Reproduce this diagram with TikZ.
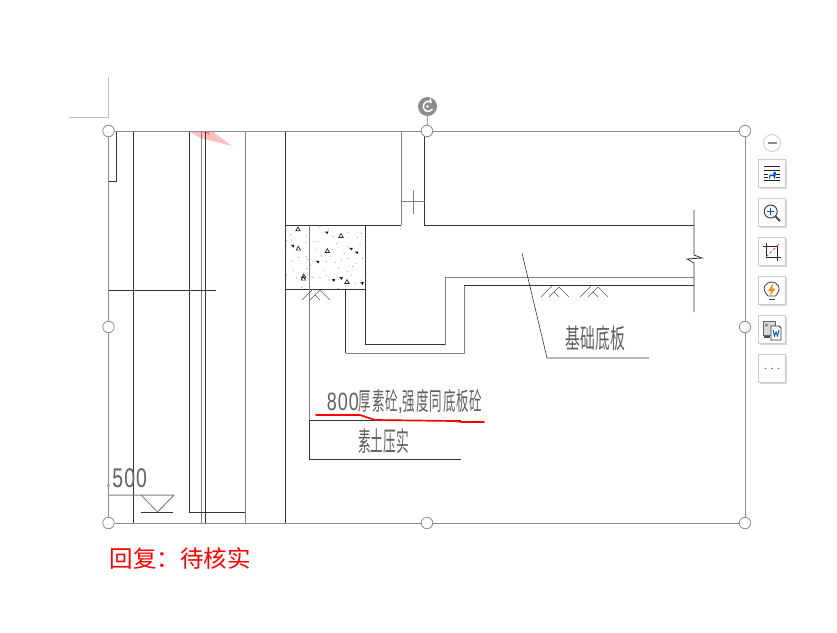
\documentclass[tikz,border=0pt]{standalone}
\usepackage{fontspec}
\usetikzlibrary{shadows}
\newfontfamily\uifont{Noto Sans CJK SC}
\newfontfamily\cadwide[FakeStretch=.55]{Noto Sans CJK SC}
\newfontfamily\cadslim[FakeStretch=.47]{Noto Sans CJK SC}
\newfontfamily\cadline[FakeStretch=.5,LetterSpace=3.4]{Noto Sans CJK SC}
\newfontfamily\cadnum[FakeStretch=.72,LetterSpace=4]{Liberation Sans}
\newcommand{\soilmark}[2]{%
	\draw[thinline] (#1,#2+11) -- (#1+11,#2);
	\draw[thinline] (#1+8,#2+11) -- (#1+18,#2+1) -- (#1+28,#2+11);
	\draw[thinline] (#1+13,#2+6) -- (#1+18,#2+11);
}
\begin{document}
\begin{tikzpicture}[
	x=1pt, y=-1pt,
	darkline/.style={draw=black!80, line width=.8pt},
	grayline/.style={draw=black!50, line width=1pt},
	thinline/.style={draw=black!65, line width=.6pt},
	hstyle/.style={circle, draw=black!45, fill=white, line width=.8pt, inner sep=0pt, minimum size=11.5pt},
	bstyle/.style={rectangle, draw=black!20, fill=white, line width=.8pt, inner sep=0pt, minimum size=27.5pt,
	drop shadow={shadow xshift=1.5pt, shadow yshift=-1.5pt, fill=black!25, opacity=.6}},
	cadlabel/.style={inner sep=0pt, text=black!62, anchor=center},
	]
	\useasboundingbox (0,0) rectangle (837,632);
	
	% page corner
	\coordinate (c1) at (108,77);
	\coordinate (c2) at (108,117);
	\coordinate (c3) at (69,117);
	\draw[draw=black!25, line width=.8pt] (c1) -- (c2) -- (c3);
	
	% pink smear
	\fill[red!25] (189,131) -- (200,138) -- (232,146) -- (212,131) -- cycle;
	\fill[red!55] (200,131) -- (210,135) -- (208,131) -- cycle;
	
	% left part of the drawing
	\draw[darkline] (108,181) -- (116.5,181) -- (116.5,131);
	\draw[darkline] (133,131) -- (133,523);
	\draw[darkline] (189.5,131) -- (189.5,513);
	\draw[grayline] (201.5,131) -- (201.5,523);
	\draw[darkline] (205,131) -- (205,523);
	\draw[grayline] (245,131) -- (245,523);
	\draw[darkline] (285,131) -- (285,523);
	\draw[darkline] (108,290.5) -- (216,290.5);
	\draw[darkline] (189.5,512.5) -- (245,512.5);
	\draw[grayline] (108,495) -- (174,495) -- (157.5,512);
	\draw[thinline] (141,495) -- (157.5,512);
	\draw[darkline] (141,512) -- (173,512);
	
	% wall and slab
	\draw[darkline] (285,225) -- (401,225);
	\draw[grayline] (401,131) -- (401,225);
	\draw[darkline] (424.5,131) -- (424.5,225) -- (694,225);
	\draw[grayline] (401,201.5) -- (424.5,201.5);
	\draw[grayline] (413,190) -- (413,214);
	\draw[darkline] (285,289) -- (365,289);
	\draw[grayline] (309.5,225) -- (309.5,420);
	\draw[darkline] (309.5,420) -- (309.5,459.5) -- (461,459.5);
	\draw[darkline] (309.5,420) -- (461,420);
	\draw[darkline] (365,225) -- (365,344.5) -- (445,344.5);
	\draw[grayline] (445,344.5) -- (445,277) -- (694,277);
	\draw[darkline] (345.5,289) -- (345.5,353);
	\draw[grayline] (345.5,353) -- (464,353) -- (464,285.5);
	\draw[darkline] (464,285.5) -- (694,285.5);
	\draw[darkline] (694,210) -- (694,255) -- (702,258) -- (687,259) -- (694,263) -- (694,312);
	
	% leader
	\draw[thinline, draw=black!80] (522,253) -- (547,358) -- (649,358);
	
	% soil marks
	\soilmark{302}{289}
	\soilmark{541}{286}
	\soilmark{580}{286}
	
	% concrete fill
	\foreach \a/\b in {84/87,85/145,101/228,213/107,172/152,231/245,100/235}
		\draw[black!85, line width=.7pt] (270+\a/3-2.2,200+\b/3+1.8) -- (270+\a/3,200+\b/3-2) -- (270+\a/3+2.2,200+\b/3+1.8) -- cycle;
	\foreach \a/\b in {68/138,170/98,243/147,260/158,143/186,213/235,190/241,276/250}
		\fill[black!90] (270+\a/3-1.8,200+\b/3-1) -- (270+\a/3+1.8,200+\b/3-1.2) -- (270+\a/3+.8,200+\b/3+1.5) -- cycle;
	\foreach \a/\b in {62/103,50/122,110/110,135/125,145/125,108/170,112/178,65/183,85/172,50/225,80/232,
	147/82,175/88,235/97,275/100,262/112,190/110,232/140,155/168,180/168,168/185,195/187,235/175,
	258/190,205/203,232/215,168/227,150/233,178/240,245/225,275/240,95/262,205/265,228/258,
	108/128,65/120,48/165,112/205,70/210,122/195,200/130,222/160,215/180,270/135,278/175,248/200,
	140/150,160/210,188/148,255/250,128/232}
		\fill[black!50] (270+\a/3,200+\b/3) circle (.5pt);
	
	% drawing labels
	\node[cadlabel] (plate) at (595.5,338.5) {\fontsize{27}{27}\cadwide 基础底板};
	\node[cadlabel] (mix) at (404.5,401.5) {\fontsize{25}{25}\selectfont{\fontsize{25}{25}\cadnum 800}\cadline 厚素砼{\cadnum ,}强度同底板砼};
	\node[cadlabel] (soil) at (383.5,441) {\fontsize{27}{27}\cadslim 素土压实};
	\node[cadlabel] (level) at (126.5,478) {\fontsize{27}{27}\cadnum .500};
	
	% red underline
	\draw[red, line width=1.7pt, line cap=round] (316,415) -- (360,415) -- (375,420) -- (455,421) -- (462,422) -- (484,422);
	
	% selection frame
	\node[hstyle] (tl) at (108.5,131) {};
	\node[hstyle] (tm) at (427,131) {};
	\node[hstyle] (tr) at (745,131) {};
	\node[hstyle] (ml) at (108.5,327) {};
	\node[hstyle] (mr) at (745,327) {};
	\node[hstyle] (bl) at (108.5,523) {};
	\node[hstyle] (bm) at (427,523) {};
	\node[hstyle] (br) at (745,523) {};
	\node[circle, fill=black!45, inner sep=0pt, minimum size=19pt] (rot) at (427.5,106.5) {};
	\draw[black!45, line width=.8pt] (tl) -- (tm);
	\draw[black!45, line width=.8pt] (tm) -- (tr);
	\draw[black!45, line width=.8pt] (tr) -- (mr);
	\draw[black!45, line width=.8pt] (mr) -- (br);
	\draw[black!45, line width=.8pt] (br) -- (bm);
	\draw[black!45, line width=.8pt] (bm) -- (bl);
	\draw[black!45, line width=.8pt] (bl) -- (ml);
	\draw[black!45, line width=.8pt] (ml) -- (tl);
	\draw[black!45, line width=.8pt] (rot) -- (tm);
	\draw[white, line width=1.5pt, -stealth] (432.5,109) arc (30:320:5);
	\fill[white] (427.5,106.5) circle (1.3pt);
	
	% toolbar
	\node[circle, draw=black!20, fill=white, line width=.8pt, inner sep=0pt, minimum size=17pt] (minus) at (772,143) {};
	\draw[black!45, line width=1.6pt] (767.5,143) -- (776.5,143);
	\foreach \n/\yy in {1/173.5,2/212.5,3/251.5,4/290.5,5/329.5,6/368.5}
		\node[bstyle] (btn\n) at (772,\yy) {};
	
	% icon 1
	\foreach \yy in {166.7,170.7,180.7}
		\draw[black!85, line width=.8pt] (764,\yy) -- (780,\yy);
	\foreach \yy in {174,177.3} {
		\draw[black!85, line width=.7pt] (764,\yy) -- (768,\yy);
		\draw[black!85, line width=.7pt] (776,\yy) -- (780,\yy);
	}
	\fill[blue!60!cyan!80!black] (769,178.5) -- (769.5,174.5) -- (773,174.5) -- (774,171.5) -- (776,172.5) -- (775,178.5) -- (774,178.5) -- (773.5,176) -- (770.5,176) -- (770,178.5) -- cycle;
	
	% icon 2
	\draw[black!80, line width=.9pt] (770.7,211.5) circle (6.5pt);
	\draw[black!70, line width=1.8pt] (775.5,216.5) -- (780,221);
	\draw[blue!60!cyan!80!black, line width=.9pt] (767,211.5) -- (774.4,211.5);
	\draw[blue!60!cyan!80!black, line width=.9pt] (770.7,207.8) -- (770.7,215.2);
	
	% icon 3
	\draw[black!85, line width=.9pt] (763,246) -- (777,246) -- (777,261);
	\draw[black!85, line width=.9pt] (766,243) -- (766,257) -- (781,257);
	\draw[red!75, line width=.8pt, densely dashed] (766,257) -- (780,243);
	
	% icon 4
	\draw[black!70, line width=.9pt] (768,296) .. controls (760,288) and (766,282) .. (771.7,282) .. controls (777,282) and (783,288) .. (775.5,296) -- cycle;
	\draw[black!70, line width=.9pt] (768.5,299) -- (775,299);
	\fill[orange!90!yellow] (773,283.5) -- (768,291) -- (771,291) -- (770,296) -- (775.5,288.5) -- (772.5,288.5) -- cycle;
	
	% icon 5
	\draw[black!60, fill=black!15, line width=.7pt] (763.5,321.5) rectangle (775.5,335);
	\fill[black!45] (766.5,325) circle (1.8pt);
	\draw[black!70, line width=1.2pt] (764,337) -- (770,337);
	\draw[black!80, fill=white, line width=.8pt] (771,326) -- (779,326) -- (781,328) -- (781,340) -- (771,340) -- cycle;
	\draw[blue!60!cyan!80!black, line width=.9pt] (773,330) -- (774.5,336) -- (776,332) -- (777.5,336) -- (779,330);
	
	% icon 6
	\foreach \xx in {765.5,772,778.5}
		\fill[black!60] (\xx,368.5) circle (.9pt);
	
	% reply
	\node[inner sep=0pt, text=red, anchor=west] (reply) at (109.5,558) {\fontsize{23.5}{23.5}\uifont 回复^^^^ff1a待核实};
\end{tikzpicture}
\end{document}
